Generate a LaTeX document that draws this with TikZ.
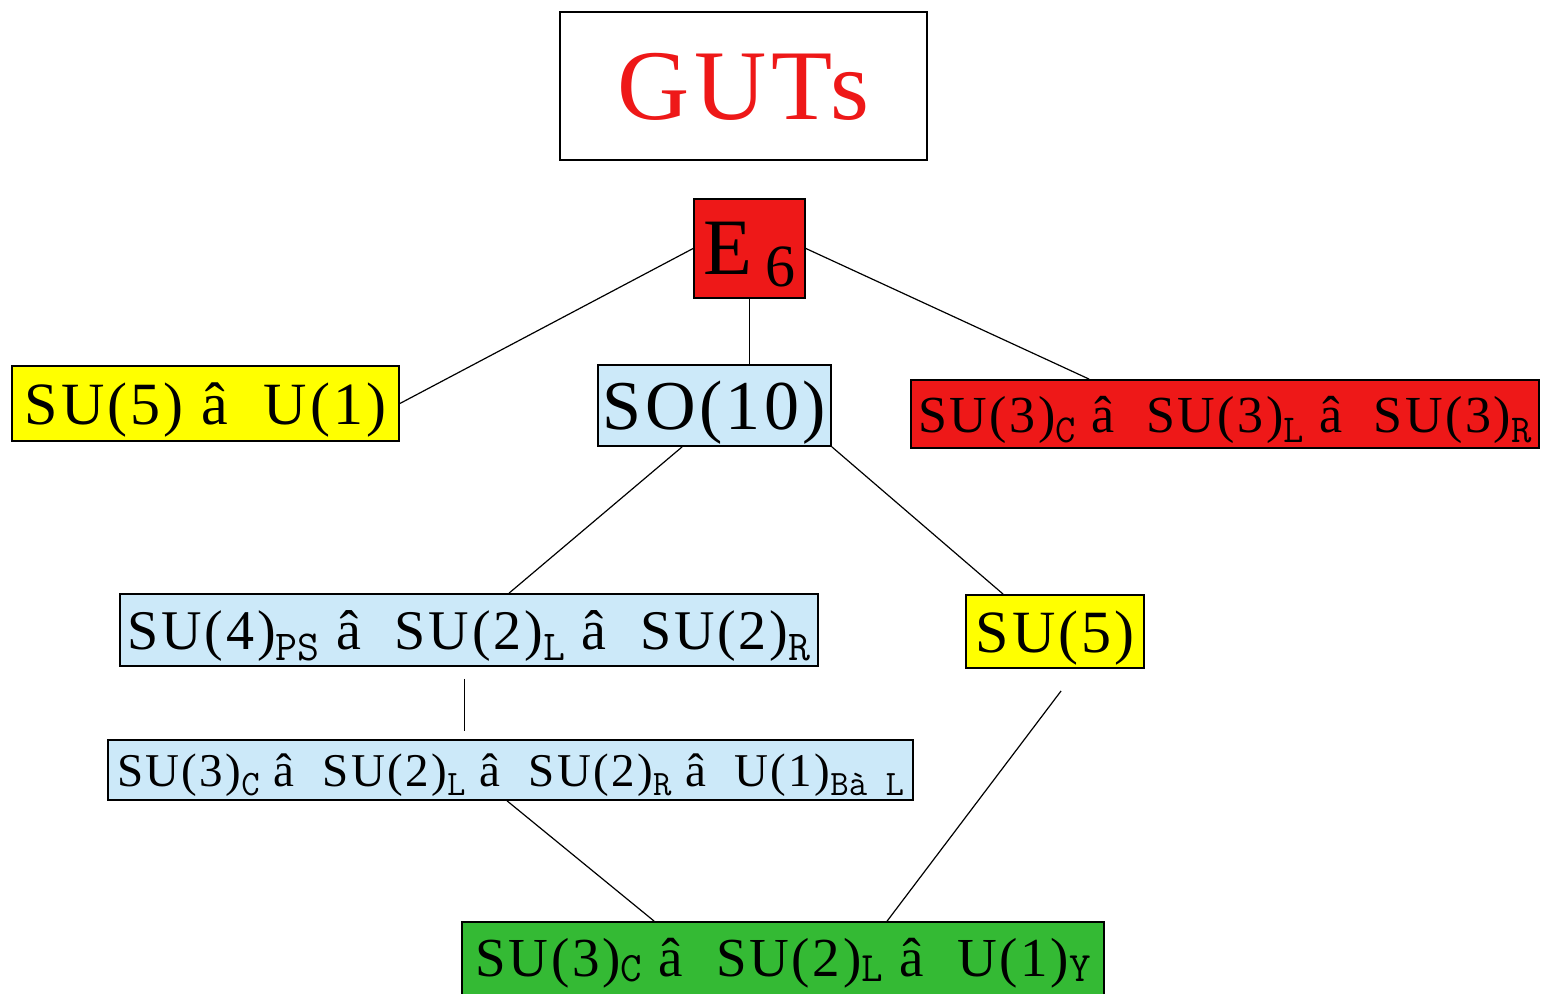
\documentclass[tikz,border=0pt]{standalone}
\usepackage{fontspec}
\setmainfont{Liberation Serif}[LetterSpace=5]
\newfontfamily\subf{Latin Modern Mono}[Scale=0.76]
\usetikzlibrary{calc}
\definecolor{gred}{RGB}{238,24,24}
\definecolor{gyel}{RGB}{255,255,0}
\definecolor{gblue}{RGB}{204,233,249}
\definecolor{ggreen}{RGB}{52,186,52}
\newcommand\sbs[1]{\raisebox{-0.2em}{\subf #1}}
\newcommand\sbsb[1]{\raisebox{-0.1em}{\subf #1}}
\newcommand\fs[1]{\fontsize{#1}{#1}\selectfont}
\begin{document}
\begin{tikzpicture}[x=0.5pt,y=-0.5pt,
  box/.style={draw=black,line width=0.9pt,inner sep=0pt,anchor=center,text depth=0pt},
  wh/.style 2 args={minimum width=#1*0.5pt,minimum height=#2*0.5pt},
  link/.style={line width=0.6pt,draw=black}]
\useasboundingbox (0,0) rectangle (1544,994);
\fill[white] (0,0) rectangle (1544,994);
\node[box,wh={367}{148},text=gred] (guts) at (743.5,86) {\fs{50}GUTs};
\node[box,fill=gred,wh={111}{99}] (e6) at (749.5,248.5) {\fs{40}E\,\raisebox{-6pt}{\fs{30}6}};
\node[box,fill=gyel,wh={387}{75}] (a) at (205.5,403.5) {\fs{30}SU(5) â\ \ U(1)};
\node[box,fill=gblue,wh={233}{81}] (so) at (714.5,405.5) {\fs{35}SO(10)};
\node[box,fill=gred,wh={628}{68}] (r) at (1225,414) {\fs{26}SU(3)\sbs{C} â\ \ SU(3)\sbs{L} â\ \ SU(3)\sbs{R}};
\node[box,fill=gblue,wh={698}{72}] (su422) at (469,630) {\fs{28}SU(4)\sbs{PS} â\ \ SU(2)\sbs{L} â\ \ SU(2)\sbs{R}};
\node[box,fill=gyel,wh={178}{73}] (su5) at (1055,631.5) {\fs{30}SU(5)};
\node[box,fill=gblue,wh={805}{60}] (su3221) at (510.5,770) {\fs{23.5}SU(3)\sbs{C} â\ \ SU(2)\sbs{L} â\ \ SU(2)\sbs{R} â\ \ U(1)\sbs{Bà L}};
\node[box,fill=ggreen,wh={642}{74}] (sm) at (783,959) {\raisebox{2pt}{\fs{27.5}SU(3)\sbsb{C} â\ \ SU(2)\sbsb{L} â\ \ U(1)\sbsb{Y}}};
\draw[link] (e6.west) -- (a.east);
\draw[link] (e6.east) -- ($(r.north west)+(179,0)$);
\draw[link] (e6.south) -- (e6.south |- so.north);
\draw[link] ($(so.south west)+(85,0)$) -- ($(su422.north west)+(390,0)$);
\draw[link] (so.south east) -- ($(su5.north west)+(38,0)$);
\draw[link] ($(su422.south west)+(345,12)$) -- ++(0,52);
\draw[link] ($(su3221.south west)+(400,0)$) -- ($(sm.north west)+(193,0)$);
\draw[link] ($(su5.south west)+(96,22)$) -- ($(sm.north west)+(426,0)$);
\end{tikzpicture}
\end{document}
